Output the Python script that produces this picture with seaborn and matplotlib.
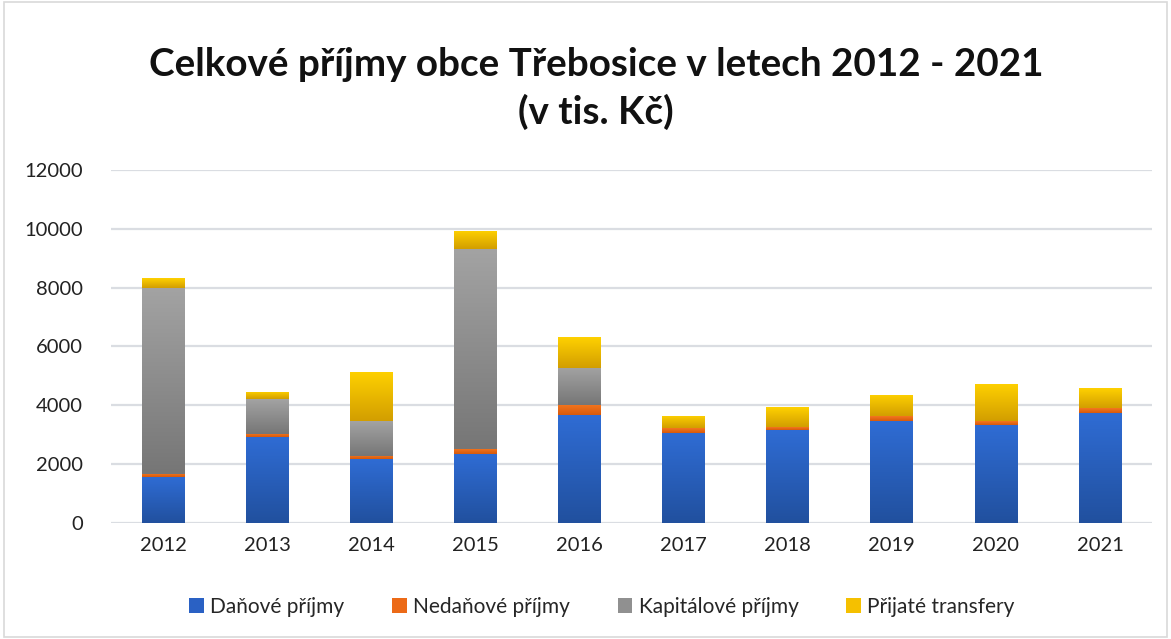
import numpy as np
import pandas as pd
import matplotlib
matplotlib.use("Agg")
import matplotlib.pyplot as plt
import seaborn as sns
from matplotlib.colors import LinearSegmentedColormap
from matplotlib.patches import Rectangle

years = ["2012", "2013", "2014", "2015", "2016", "2017", "2018", "2019", "2020", "2021"]
danove = [1550, 2900, 2160, 2330, 3650, 3060, 3160, 3470, 3330, 3740]
nedanove = [110, 120, 125, 180, 360, 150, 100, 160, 125, 170]
kapitalove = [6340, 1180, 1160, 6790, 1270, 0, 0, 0, 0, 0]
transfery = [330, 260, 1690, 620, 1040, 410, 680, 720, 1280, 680]

series_names = ["Daňové příjmy", "Nedaňové příjmy", "Kapitálové příjmy", "Přijaté transfery"]
series_vals = [danove, nedanove, kapitalove, transfery]
top_colors = ["#2F6CD4", "#F5761F", "#A3A3A3", "#FFD100"]
bot_colors = ["#21509E", "#D65A0C", "#767676", "#D29E00"]
legend_colors = ["#2A61C4", "#EC6A17", "#909090", "#F5C000"]

sns.set_theme(style="white")
plt.rcParams["font.family"] = ["Lato", "DejaVu Sans"]

fig = plt.figure(figsize=(11.71, 6.39), dpi=100)
ax = fig.add_axes([0.0948, 0.182, 0.889, 0.552])

bottoms = np.zeros(len(years))
for name, vals, tc, bc in zip(series_names, series_vals, top_colors, bot_colors):
    df = pd.DataFrame({"year": years, "val": vals})
    before = len(ax.patches)
    sns.barplot(data=df, x="year", y="val", ax=ax, color=tc, width=0.41,
                bottom=bottoms, saturation=1, edgecolor="none", zorder=3)
    new_patches = ax.patches[before:]
    cmap = LinearSegmentedColormap.from_list(name, [bc, tc])
    grad = np.linspace(0, 1, 256).reshape(-1, 1)
    for p in new_patches:
        x0, y0 = p.get_x(), p.get_y()
        w, h = p.get_width(), p.get_height()
        if h <= 0:
            continue
        p.set_facecolor("none")
        im = ax.imshow(grad, extent=[x0, x0 + w, y0, y0 + h], origin="lower",
                       cmap=cmap, aspect="auto", zorder=3, interpolation="bilinear")
        im.set_clip_path(p)
    bottoms = bottoms + np.array(vals)

ax.set_xlim(-0.5, len(years) - 0.5)
ax.set_ylim(0, 12000)
ax.set_yticks(np.arange(0, 12001, 2000))
ax.yaxis.grid(True, color="#DADDE2", linewidth=1.6, zorder=0)
ax.set_axisbelow(True)
for s in ax.spines.values():
    s.set_visible(False)
ax.set_xlabel("")
ax.set_ylabel("")
ax.tick_params(axis="both", length=0, labelsize=14.5, colors="#222222", pad=10)
ax.tick_params(axis="y", pad=20)

fig.text(0.509, 0.862, "Celkové příjmy obce Třebosice v letech 2012 - 2021\n(v tis. Kč)",
         ha="center", va="center", fontsize=27.8, fontweight="bold", color="#111111",
         linespacing=1.4)

handles = [Rectangle((0, 0), 1, 1, facecolor=c, edgecolor="none") for c in legend_colors]
fig.legend(handles, series_names, loc="center", bbox_to_anchor=(0.514, 0.05), ncol=4,
           frameon=False, fontsize=15, handlelength=0.7, handleheight=0.7,
           handletextpad=0.3, columnspacing=2.3)

fig.patches.append(Rectangle((0.003, 0.003), 0.994, 0.994, transform=fig.transFigure,
                             fill=False, edgecolor="#D9D9D9", linewidth=1.2))

fig.savefig("out.png", dpi=100)
